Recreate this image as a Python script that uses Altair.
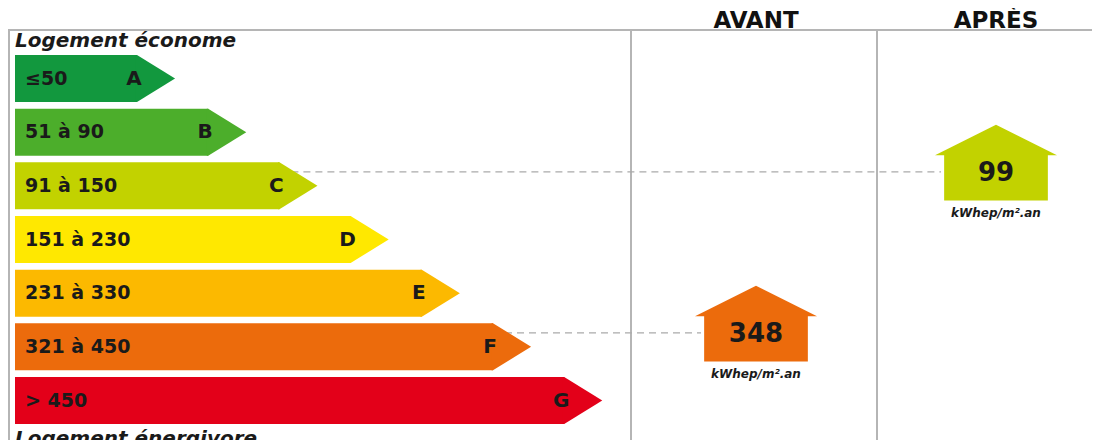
import altair as alt
import pandas as pd

# ---- data -------------------------------------------------------------
classes = ["A", "B", "C", "D", "E", "F", "G"]
ranges = ["≤50", "51 à 90", "91 à 150", "151 à 230", "231 à 330", "321 à 450", "> 450"]
upper = [50, 90, 150, 230, 330, 450, float("inf")]
colors = ["#12983e", "#4cae2b", "#c2d200", "#ffe800", "#fcb900", "#ec6b0c", "#e30019"]
phases = ["AVANT", "APRÈS"]
phase_values = [348, 99]
unit = "kWhep/m².an"
top_label = "Logement économe"
bottom_label = "Logement énergivore"

# ---- layout (not data) --------------------------------------------------
W, H = 1084, 432
BAR_X0 = 7
END0, STEP = 129, 71.2
FRAME_Y = 22
col_center = {"AVANT": 748, "APRÈS": 988}
col_lines = [1, 623, 869]
FONT = "DejaVu Sans"
INK = "#1a1a1a"
GRID = "#b5b5b5"

def class_of(v):
    for c, u in zip(classes, upper):
        if v <= u:
            return c
    return classes[-1]

bars = pd.DataFrame({
    "cls": classes,
    "rng": ranges,
    "rank": list(range(len(classes))),
})
bars["x0"] = BAR_X0
bars["xend"] = END0 + STEP * bars["rank"]
bars["xtxt"] = BAR_X0 + 10
bars["xlet"] = bars["xend"] - 3

ph = pd.DataFrame({"phase": phases, "value": phase_values})
ph["cls"] = ph["value"].apply(class_of)
ph["rank"] = ph["cls"].apply(classes.index)
ph["xc"] = ph["phase"].map(col_center)
ph["xstart"] = END0 + STEP * ph["rank"]
ph["xstop"] = ph["xc"] - 55
ph["label"] = ph["value"].astype(str)
ph["unit"] = unit

xs = alt.Scale(domain=[0, W], range=[0, W], nice=False, zero=False)
step = 53.67
ys = alt.Scale(domain=classes, range=[47 - 0.062 * step, 47 - 0.062 * step + 7 * step],
               paddingInner=0.124, paddingOuter=0.062)
cs = alt.Scale(domain=classes, range=colors)

X = lambda f: alt.X(f, type="quantitative", scale=xs, axis=None)
Y = alt.Y("cls:N", scale=ys, axis=None)
C = alt.Color("cls:N", scale=cs, legend=None)

# frame
frame_v = alt.Chart(pd.DataFrame({"x": col_lines})).mark_rule(
    color=GRID, strokeWidth=2).encode(x=X("x"), y=alt.value(FRAME_Y), y2=alt.value(H))
frame_h = alt.Chart(pd.DataFrame({"a": [0]})).mark_rule(
    color=GRID, strokeWidth=2).encode(x=alt.value(0), x2=alt.value(W), y=alt.value(FRAME_Y))

# dashed connectors
dash = alt.Chart(ph).mark_rule(color="#aaaaaa", strokeWidth=1.2, strokeDash=[7, 5],
                               yOffset=-14).encode(x=X("xstart"), x2="xstop:Q", y=Y)

# arrows
bar = alt.Chart(bars).mark_bar(cornerRadius=0, strokeWidth=0).encode(
    x=X("x0"), x2="xend:Q", y=Y, color=C)
TIP_PATH = "M -0.06 -1 L 0 -1 L 1.62 0 L 0 1 L -0.06 1 Z"
tip = alt.Chart(bars).mark_point(shape=TIP_PATH, filled=True, opacity=1, size=47 * 47,
                                 strokeWidth=0).encode(x=X("xend"), y=Y, color=C)
rng_txt = alt.Chart(bars).mark_text(align="left", baseline="middle", font=FONT,
                                    fontWeight="bold", fontSize=19, color=INK).encode(
    x=X("xtxt"), y=Y, text="rng:N")
let_txt = alt.Chart(bars).mark_text(align="center", baseline="middle", font=FONT,
                                    fontWeight="bold", fontSize=20, color=INK).encode(
    x=X("xlet"), y=Y, text="cls:N")

# houses
HOUSE = ("M -0.85 0.37 L 0.85 0.37 L 0.85 -0.37 L 1 -0.37 L 0 -0.87 "
         "L -1 -0.37 L -0.85 -0.37 Z")
house = alt.Chart(ph).mark_point(shape=HOUSE, filled=True, opacity=1, size=122 * 122,
                                 strokeWidth=0, yOffset=-8).encode(x=X("xc"), y=Y, color=C)
house_val = alt.Chart(ph).mark_text(baseline="middle", font=FONT, fontWeight="bold",
                                    fontSize=26, color=INK, yOffset=-13).encode(
    x=X("xc"), y=Y, text="label:N")
house_unit = alt.Chart(ph).mark_text(baseline="middle", font=FONT, fontWeight="bold",
                                     fontStyle="italic", fontSize=12, color=INK,
                                     yOffset=27).encode(x=X("xc"), y=Y, text="unit:N")

# titles
titles = alt.Chart(ph).mark_text(baseline="alphabetic", font=FONT, fontWeight="bold",
                                 fontSize=23, color="#111111").encode(
    x=X("xc"), y=alt.value(20), text="phase:N")
side_style = dict(align="left", baseline="alphabetic", font=FONT, fontWeight="bold",
                  fontStyle="italic", fontSize=20, color=INK)
side_top = alt.Chart(pd.DataFrame({"t": [top_label]})).mark_text(**side_style).encode(
    x=alt.value(BAR_X0), y=alt.value(39), text="t:N")
side_bottom = alt.Chart(pd.DataFrame({"t": [bottom_label]})).mark_text(**side_style).encode(
    x=alt.value(BAR_X0), y=alt.value(437), text="t:N")

chart = alt.layer(frame_v, frame_h, dash, bar, tip, rng_txt, let_txt,
                  house, house_val, house_unit, titles, side_top, side_bottom).properties(
    width=W, height=H, padding=0,
    autosize=alt.AutoSizeParams(type="none"),
    background="white",
).configure_view(stroke=None)

chart.save("out.html", embed_options={"renderer": "svg", "actions": False})
